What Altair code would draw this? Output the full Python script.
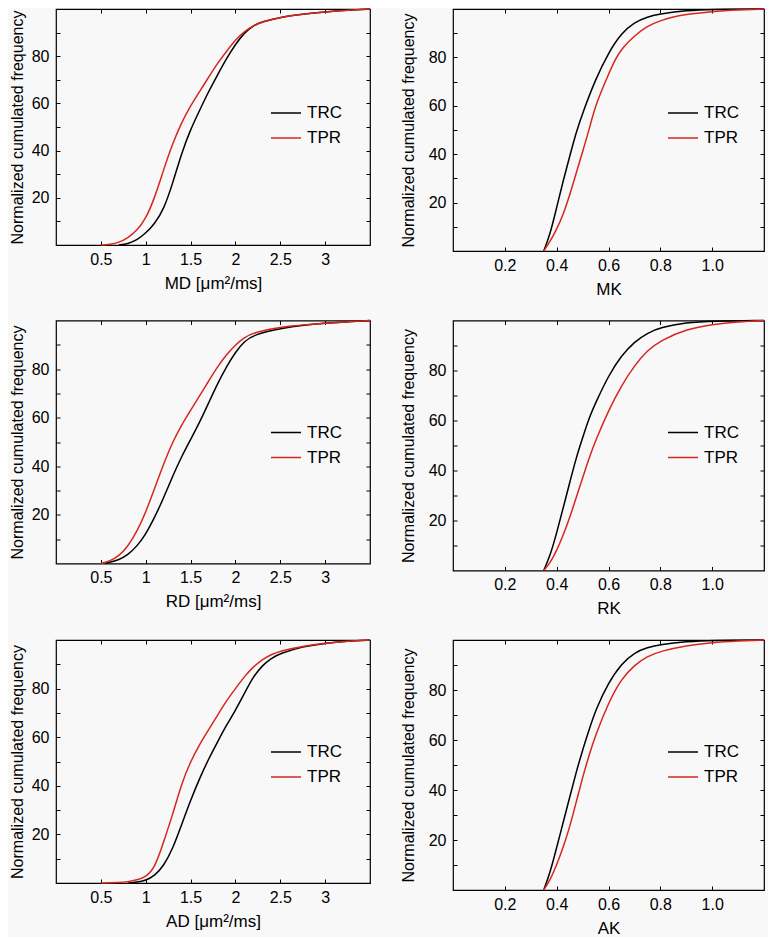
import altair as alt
import pandas as pd

GROUPS = ["TRC", "TPR"]
COLORS = ["#000000", "#d7261e"]

D_TICKS = [0.5, 1, 1.5, 2, 2.5, 3]
K_TICKS = [0.2, 0.4, 0.6, 0.8, 1.0]
Y_TICKS = [10, 20, 30, 40, 50, 60, 70, 80, 90]
Y_TITLE = "Normalized cumulated frequency"

# ---- MD ----
md_trc_x = [0.7, 0.8, 0.9, 1.0, 1.1, 1.2, 1.3, 1.4, 1.5, 1.6, 1.7, 1.8, 1.9, 2.0, 2.1, 2.2, 2.3, 2.5, 2.75, 3.0, 3.25, 3.5]
md_trc_y = [0, 0.5, 2, 5, 9, 15, 26, 39, 49, 57, 65, 72, 79, 85, 90, 93, 94.7, 96.5, 97.8, 98.8, 99.5, 100]
md_tpr_x = [0.5, 0.6, 0.7, 0.8, 0.9, 1.0, 1.1, 1.2, 1.3, 1.4, 1.5, 1.6, 1.7, 1.8, 1.9, 2.0, 2.1, 2.2, 2.3, 2.5, 2.75, 3.0, 3.25, 3.5]
md_tpr_y = [0, 0.3, 1, 3, 6, 11, 20, 32, 43, 52, 59, 65, 71, 77, 82, 87, 90.5, 93, 94.5, 96.5, 97.8, 98.8, 99.5, 100]

# ---- MK ----
mk_trc_x = [0.35, 0.375, 0.4, 0.425, 0.45, 0.475, 0.5, 0.55, 0.6, 0.65, 0.7, 0.75, 0.8, 0.9, 1.0, 1.2]
mk_trc_y = [0, 7, 18, 29, 39, 49, 57, 71, 82, 90, 94.5, 96.8, 98, 99.4, 99.9, 100]
mk_tpr_x = [0.35, 0.375, 0.4, 0.425, 0.45, 0.475, 0.5, 0.525, 0.55, 0.6, 0.625, 0.65, 0.7, 0.75, 0.8, 0.85, 0.9, 1.0, 1.1, 1.2]
mk_tpr_y = [0, 4, 9, 15, 23, 32, 41, 50, 60.5, 73, 79, 83.5, 89, 93, 95.2, 96.8, 97.8, 99, 99.6, 100]

# ---- RD ----
rd_trc_x = [0.55, 0.6, 0.7, 0.8, 0.9, 1.0, 1.1, 1.2, 1.3, 1.4, 1.5, 1.6, 1.7, 1.8, 1.9, 2.0, 2.1, 2.2, 2.5, 3.0, 3.5]
rd_trc_y = [0, 0.5, 1.5, 3.5, 7, 12, 19, 27, 36, 44, 51, 58, 66, 74, 81, 87, 91.5, 94, 97, 99, 100]
rd_tpr_x = [0.5, 0.6, 0.7, 0.8, 0.9, 1.0, 1.1, 1.2, 1.3, 1.4, 1.5, 1.6, 1.7, 1.8, 1.9, 2.0, 2.1, 2.2, 2.5, 3.0, 3.5]
rd_tpr_y = [0, 1, 3, 7, 13, 21, 31, 41, 50, 57, 63, 69, 75, 81, 86, 90, 93, 95, 97.5, 99, 100]

# ---- RK ----
rk_trc_x = [0.35, 0.375, 0.4, 0.425, 0.45, 0.475, 0.5, 0.525, 0.55, 0.6, 0.65, 0.7, 0.75, 0.8, 0.9, 1.0, 1.2]
rk_trc_y = [0, 6, 15, 25, 35, 45, 53, 61, 67, 78, 86, 91.5, 95, 97.2, 99.2, 99.8, 100]
rk_tpr_x = [0.35, 0.375, 0.4, 0.425, 0.45, 0.475, 0.5, 0.525, 0.55, 0.6, 0.65, 0.7, 0.75, 0.8, 0.9, 1.0, 1.1, 1.2]
rk_tpr_y = [0, 3, 8, 14, 21, 29, 37, 45, 52, 64, 74, 82, 88, 92, 96.5, 98.5, 99.5, 100]

# ---- AD ----
ad_trc_x = [0.8, 0.9, 1.0, 1.1, 1.2, 1.3, 1.4, 1.5, 1.6, 1.7, 1.8, 1.9, 2.0, 2.1, 2.2, 2.3, 2.4, 2.5, 2.75, 3.0, 3.25, 3.5]
ad_trc_y = [0, 0.3, 1, 3, 7, 14, 24, 34, 43, 51, 58, 65, 71, 78, 85, 89.5, 92.5, 94.5, 97.3, 98.7, 99.5, 100]
ad_tpr_x = [0.5, 0.7, 0.8, 0.9, 1.0, 1.1, 1.2, 1.3, 1.4, 1.5, 1.6, 1.7, 1.8, 1.9, 2.0, 2.1, 2.2, 2.3, 2.4, 2.5, 2.75, 3.0, 3.25, 3.5]
ad_tpr_y = [0, 0.2, 0.5, 1.2, 2.5, 6, 17, 28, 41, 50, 57, 63, 69, 75, 80, 85, 89, 92, 94, 95.5, 97.5, 98.7, 99.5, 100]

# ---- AK ----
ak_trc_x = [0.35, 0.375, 0.4, 0.425, 0.45, 0.475, 0.5, 0.525, 0.55, 0.6, 0.65, 0.7, 0.75, 0.8, 0.9, 1.0, 1.2]
ak_trc_y = [0, 7, 17, 27, 37, 47, 56, 64, 72, 83, 90.5, 95, 97, 98.2, 99.4, 99.9, 100]
ak_tpr_x = [0.35, 0.375, 0.4, 0.425, 0.45, 0.475, 0.5, 0.525, 0.55, 0.6, 0.65, 0.7, 0.75, 0.8, 0.9, 1.0, 1.1, 1.2]
ak_tpr_y = [0, 4, 10, 17, 25, 35, 45, 54, 62, 75, 84.5, 90, 93.5, 95.5, 97.8, 99, 99.6, 100]


def make_df(xt, yt, xp, yp):
    rows = [{"x": a, "y": b, "group": "TRC"} for a, b in zip(xt, yt)]
    rows += [{"x": a, "y": b, "group": "TPR"} for a, b in zip(xp, yp)]
    return pd.DataFrame(rows)


def panel(df, domain, ticks, fmt, title, w, h, title_pad, legend_y):
    xscale = alt.Scale(domain=domain, nice=False, zero=False)
    yscale = alt.Scale(domain=[0, 100], nice=False, zero=False)
    lines = alt.Chart(df).mark_line(strokeWidth=1.5, interpolate="basis").encode(
        x=alt.X("x:Q", scale=xscale,
                axis=alt.Axis(values=ticks, format=fmt, title=title, orient="bottom",
                              labelPadding=6, titlePadding=8, titleFontSize=17)),
        y=alt.Y("y:Q", scale=yscale,
                axis=alt.Axis(values=Y_TICKS, format="d", orient="left",
                              labelExpr="datum.value % 20 == 0 ? datum.label : ''",
                              title=Y_TITLE, labelPadding=7, titlePadding=title_pad,
                              titleFontSize=16)),
        color=alt.Color("group:N", scale=alt.Scale(domain=GROUPS, range=COLORS),
                        legend=alt.Legend(title=None, orient="none", legendX=214, legendY=legend_y,
                                          symbolType="stroke", symbolSize=900,
                                          symbolStrokeWidth=1.5, labelFontSize=17,
                                          labelOffset=5, rowPadding=1, padding=0,
                                          labelColor="#000000")),
    )
    frame = alt.Chart(df).mark_line(opacity=0, strokeWidth=0.5).encode(
        x=alt.X("x:Q", scale=xscale,
                axis=alt.Axis(values=ticks, orient="top", labels=False, title=None)),
        y=alt.Y("y:Q", scale=yscale,
                axis=alt.Axis(values=Y_TICKS, orient="right", labels=False, title=None)),
        detail="group:N",
    )
    return alt.layer(lines, frame).resolve_axis(x="independent", y="independent").properties(width=w, height=h)


LW, RW = 314, 311
LH, RH = 243, 250
D_FMT = "~g"
K_FMT = ".1f"
LPAD, RPAD = 6, 12

p_md = panel(make_df(md_trc_x, md_trc_y, md_tpr_x, md_tpr_y), [0, 3.5], D_TICKS, D_FMT, "MD [μm²/ms]", LW, LH - 7, LPAD, 88)
p_mk = panel(make_df(mk_trc_x, mk_trc_y, mk_tpr_x, mk_tpr_y), [0, 1.2], K_TICKS, K_FMT, "MK", RW, RH - 8, RPAD, 88)
p_rd = panel(make_df(rd_trc_x, rd_trc_y, rd_tpr_x, rd_tpr_y), [0, 3.5], D_TICKS, D_FMT, "RD [μm²/ms]", LW, LH, LPAD, 96)
p_rk = panel(make_df(rk_trc_x, rk_trc_y, rk_tpr_x, rk_tpr_y), [0, 1.2], K_TICKS, K_FMT, "RK", RW, RH, RPAD, 96)
p_ad = panel(make_df(ad_trc_x, ad_trc_y, ad_tpr_x, ad_tpr_y), [0, 3.5], D_TICKS, D_FMT, "AD [μm²/ms]", LW, LH, LPAD, 96)
p_ak = panel(make_df(ak_trc_x, ak_trc_y, ak_tpr_x, ak_tpr_y), [0, 1.2], K_TICKS, K_FMT, "AK", RW, RH, RPAD, 96)

chart = alt.vconcat(
    alt.hconcat(p_md, p_mk, spacing=25).resolve_scale(color="independent"),
    alt.hconcat(p_rd, p_rk, spacing=25).resolve_scale(color="independent"),
    alt.hconcat(p_ad, p_ak, spacing=25).resolve_scale(color="independent"),
    spacing=18.5,
).resolve_scale(color="independent").configure(
    background="#f8f8f8",
    font="Liberation Sans",
    padding={"left": 0, "top": -3, "right": 0, "bottom": 0},
).configure_view(
    stroke="#000000", strokeWidth=1.2, fill="#f8f8f8"
).configure_axis(
    labelFontSize=16, titleFontSize=17, labelColor="#000000", titleColor="#000000",
    titleFontWeight="normal", tickColor="#000000", tickWidth=1, tickSize=4,
    offset=-4, domain=False, grid=False, labelFont="Liberation Sans", titleFont="Liberation Sans",
).configure_legend(
    labelFont="Liberation Sans"
)

chart.save("out.html", embed_options={"renderer": "svg", "actions": False})
